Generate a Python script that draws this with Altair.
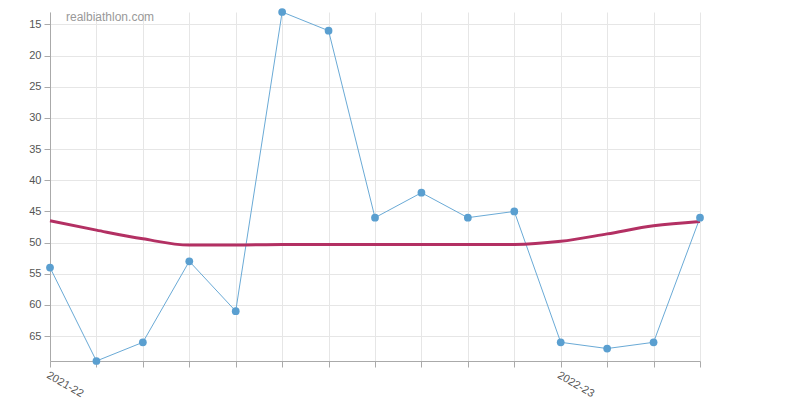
import altair as alt
import pandas as pd

idx = list(range(15))
ranks = [54, 69, 66, 53, 61, 13, 16, 46, 42, 46, 45, 66, 67, 66, 46]
trend = [46.5, 48.0, 49.4, 50.4, 50.4, 50.3, 50.3, 50.3, 50.3, 50.3, 50.3, 49.8, 48.6, 47.3, 46.6]
season_labels = {0: "2021-22", 11: "2022-23"}
y_ticks = [15, 20, 25, 30, 35, 40, 45, 50, 55, 60, 65]

df = pd.DataFrame({"i": idx, "rank": ranks, "trend": trend})

label_expr = "datum.value == 0 ? '2021-22' : (datum.value == 11 ? '2022-23' : '')"

xaxis = alt.Axis(values=idx, labelExpr=label_expr, labelAngle=30, labelAlign="left",
                 labelBaseline="top", title=None, grid=True, gridColor="#e6e6e6",
                 domainColor="#aaaaaa", tickColor="#aaaaaa", tickSize=6,
                 labelColor="#555555", labelFontSize=11, labelFont="Arial, Liberation Sans",
                 labelPadding=2, labelOverlap=False)
xscale = alt.Scale(domain=[0, 14], nice=False)
yscale = alt.Scale(domain=[13, 69], reverse=True, nice=False, zero=False)
yaxis = alt.Axis(values=y_ticks, title=None,
                 gridColor="#e6e6e6", domainColor="#aaaaaa", tickColor="#aaaaaa", tickSize=6,
                 labelColor="#555555", labelFontSize=11, labelFont="Arial, Liberation Sans",
                 labelPadding=3, labelOverlap=False)

base = alt.Chart(df)

line = base.mark_line(color="#6aaad6", strokeWidth=1).encode(
    x=alt.X("i:Q", scale=xscale, axis=xaxis),
    y=alt.Y("rank:Q", scale=yscale, axis=yaxis))
pts = base.mark_circle(color="#5a9fd0", size=60, opacity=1).encode(
    x=alt.X("i:Q", scale=xscale, axis=xaxis),
    y=alt.Y("rank:Q", scale=yscale, axis=yaxis))
tr = base.mark_line(color="#b33063", strokeWidth=3, interpolate="monotone").encode(
    x=alt.X("i:Q", scale=xscale, axis=xaxis),
    y=alt.Y("trend:Q", scale=yscale, axis=yaxis))
wm = alt.Chart(pd.DataFrame({"t": ["realbiathlon.com"]})).mark_text(
    align="left", baseline="middle", color="#999999", fontSize=12,
    font="Arial, Liberation Sans").encode(
    text="t:N", x=alt.value(16), y=alt.value(5))

chart = (line + tr + pts + wm).properties(
    width=650, height=349,
    padding={"left": 20, "top": 0, "right": 5, "bottom": 5},
).configure_view(stroke=None).configure_axis(labelOverlap=False)

chart.save("out.html", embed_options={"renderer": "svg", "actions": False})
